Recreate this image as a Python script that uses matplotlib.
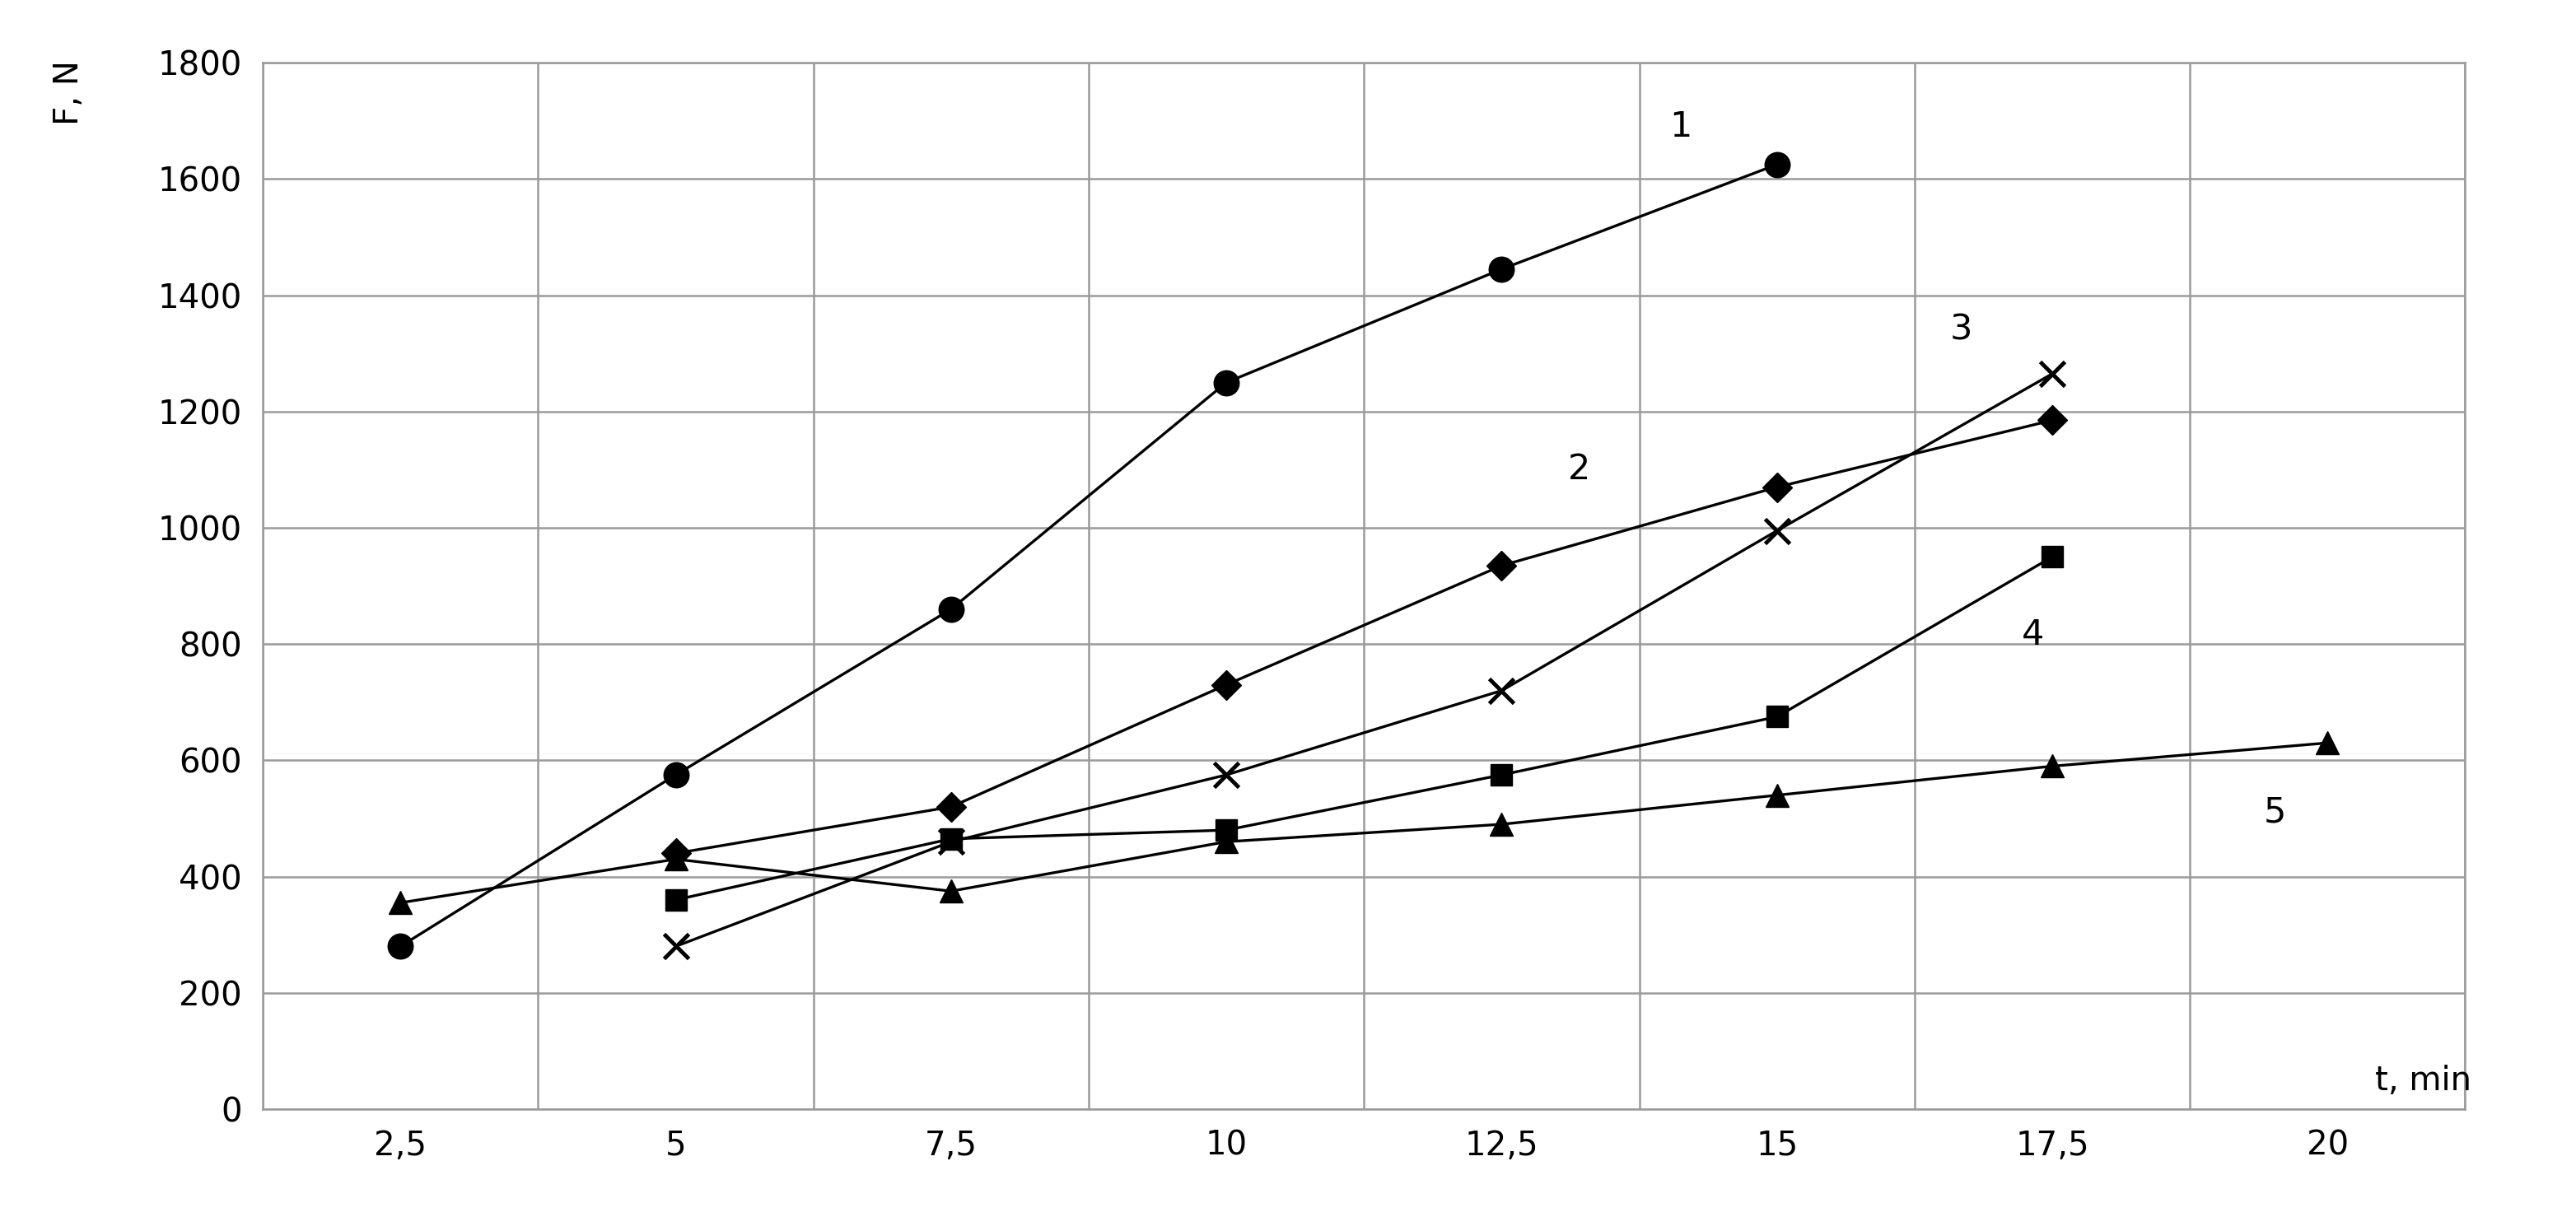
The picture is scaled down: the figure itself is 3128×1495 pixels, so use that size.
import matplotlib
matplotlib.use("Agg")
import matplotlib.pyplot as plt
import numpy as np

categories = ["2,5", "5", "7,5", "10", "12,5", "15", "17,5", "20"]
s1 = [280, 575, 860, 1250, 1445, 1625, None, None]
s2 = [None, 440, 520, 730, 935, 1070, 1185, None]
s3 = [None, 280, 460, 575, 720, 995, 1265, None]
s4 = [None, 360, 465, 480, 575, 675, 950, None]
s5 = [355, 430, 375, 460, 490, 540, 590, 630]
labels = ["1", "2", "3", "4", "5"]
label_pos = [(4.65, 1690), (4.28, 1100), (5.67, 1340), (5.93, 816), (6.81, 510)]

fig = plt.figure(figsize=(31.28, 14.95), dpi=100)
ax = fig.add_axes([0.102, 0.099, 0.855, 0.85])
x = np.arange(len(categories))

def arr(s):
    return np.array([np.nan if v is None else v for v in s], dtype=float)

styles = [(s1, "o", 22), (s2, "D", 18), (s3, "x", 22), (s4, "s", 19), (s5, "^", 20)]
for s, m, ms in styles:
    ax.plot(x, arr(s), color="black", lw=2.4, marker=m, ms=ms, mew=3.5 if m == "x" else 1)

for t, (px, py) in zip(labels, label_pos):
    ax.text(px, py, t, fontsize=31, ha="center", va="center")

ax.set_xlim(-0.5, len(categories) - 0.5)
ax.set_ylim(0, 1800)
ax.set_yticks(range(0, 1801, 200))
ax.set_xticks(x)
ax.set_xticklabels(categories)
ax.set_xticks(np.arange(-0.5, len(categories), 1), minor=True)
ax.grid(True, which="minor", axis="x", color="#9a9a9a", lw=1.8)
ax.grid(True, which="major", axis="y", color="#9a9a9a", lw=1.8)
ax.tick_params(which="both", length=0, labelsize=29, pad=18)
for sp in ax.spines.values():
    sp.set_color("#9a9a9a")
    sp.set_linewidth(1.8)
fig.text(0.027, 0.925, "F, N", rotation=90, fontsize=29, ha="center", va="center")
fig.text(0.922, 0.122, "t, min", fontsize=29, ha="left", va="center")
fig.savefig("out.png", dpi=100)
